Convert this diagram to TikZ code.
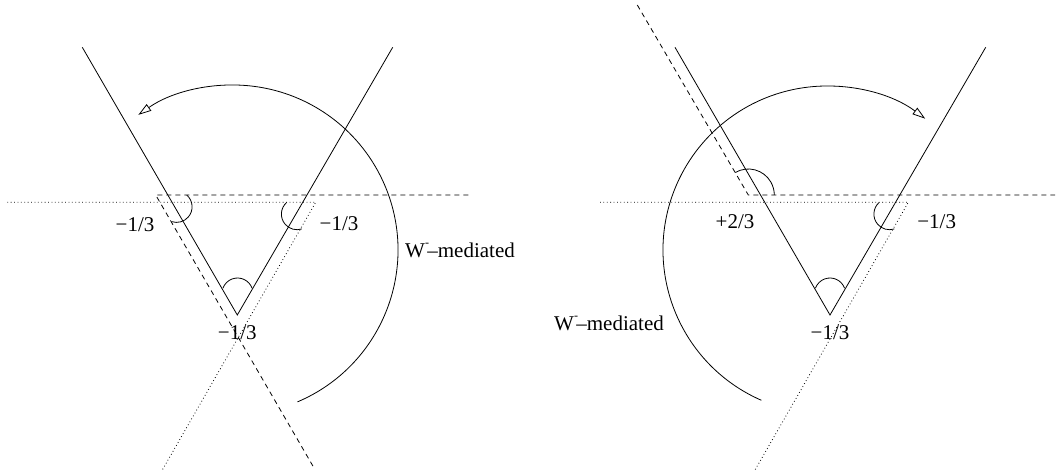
\documentclass[tikz,border=0pt]{standalone}
\usepackage{fontspec}
\setmainfont{Liberation Serif}
\usetikzlibrary{arrows.meta}
\begin{document}
\begin{tikzpicture}[x=1pt,y=-1pt,
  ln/.style={line width=0.8pt},
  dsh/.style={line width=0.8pt,dash pattern=on 5pt off 4pt},
  dtt/.style={line width=0.8pt,dash pattern=on 0.8pt off 2.6pt},
  rot/.style={line width=0.8pt,-{Triangle[open,length=13pt,width=8pt]}},
  lbl/.style={inner sep=0pt,font=\fontsize{21}{25}\selectfont}]
\useasboundingbox (0,0) rectangle (1057,474);
% ---------- left diagram ----------
\coordinate (LV) at (237.3,315);
\coordinate (LA) at (82.3,47.3);
\coordinate (LB) at (392.7,47.3);
\draw[ln] (LA) -- (LV) -- (LB);
\coordinate (LDc) at (155.7,195);
\draw[dsh] (468.3,195) -- (LDc) -- (313.3,466.7);
\coordinate (LTc) at (315.7,202.3);
\draw[dtt] (7.3,202.3) -- (LTc) -- (162.3,470);
\draw[rot] (233,250) ++(67:165) arc[start angle=67,end angle=-125,radius=165];
\draw[ln] (176.5,206.8) ++(-49:15.6) arc[start angle=-49,end angle=108,radius=15.6];
\draw[ln] (297,214.1) ++(-131:15.6) arc[start angle=-131,end angle=-288,radius=15.6];
\draw[ln] (237.5,293.5) ++(-20:15.5) arc[start angle=-20,end angle=-160,radius=15.5];
\node[lbl] (l1) at (135,225) {−1/3};
\node[lbl] (l2) at (339,224) {−1/3};
\node[lbl] (l3) at (237.3,333) {−1/3};
\node[lbl,anchor=west] (lw) at (405,250) {W\raisebox{0.5em}{\fontsize{12}{14}\selectfont -}\kern-0.08em–mediated};
% ---------- right diagram ----------
\coordinate (RV) at (830,315);
\coordinate (RA) at (675,47.3);
\coordinate (RB) at (985.7,47.3);
\draw[ln] (RA) -- (RV) -- (RB);
\coordinate (RDc) at (748.3,195);
\draw[dsh] (637.3,5) -- (RDc) -- (1055,195);
\coordinate (RTc) at (908.3,202.3);
\draw[dtt] (600,202.3) -- (RTc) -- (755,470);
\draw[rot] (827,250) ++(-246.4:164) arc[start angle=-246.4,end angle=-53.2,radius=164];
\draw[ln] (RDc) ++(-120:26) arc[start angle=-120,end angle=0,radius=26];
\draw[ln] (889.5,214.1) ++(-131:15.6) arc[start angle=-131,end angle=-288,radius=15.6];
\draw[ln] (830,293.5) ++(-20:15.5) arc[start angle=-20,end angle=-160,radius=15.5];
\node[lbl] (r1) at (735,221.7) {+2/3};
\node[lbl] (r2) at (936.7,221.7) {−1/3};
\node[lbl] (r3) at (830,333) {−1/3};
\node[lbl,anchor=east] (rw) at (664,323) {W\raisebox{0.5em}{\fontsize{12}{14}\selectfont -}\kern-0.08em–mediated};
\end{tikzpicture}
\end{document}
